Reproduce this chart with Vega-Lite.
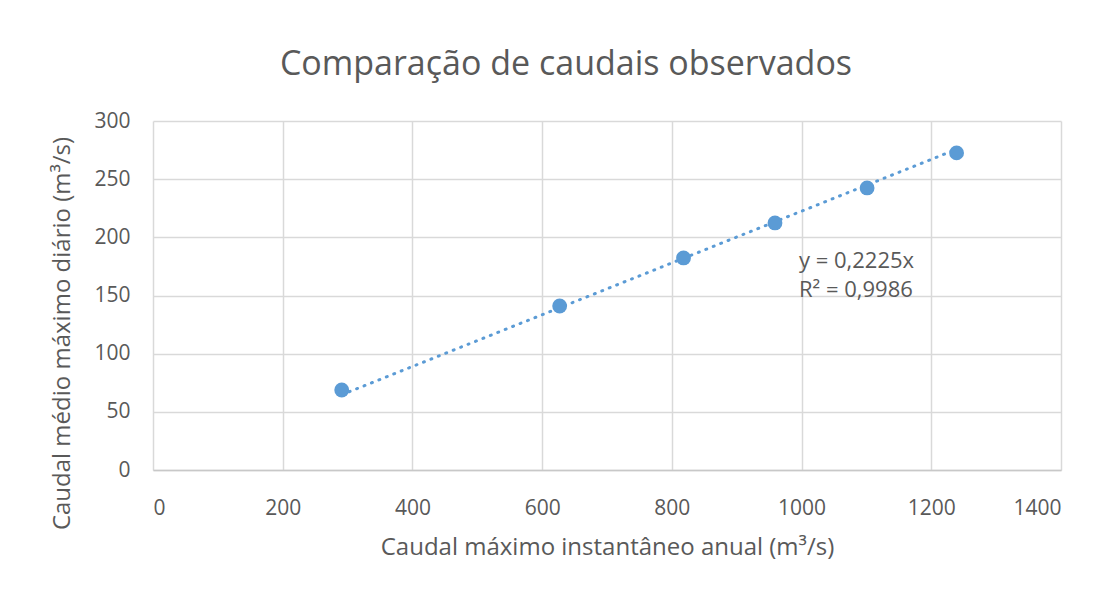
{
  "$schema": "https://vega.github.io/schema/vega-lite/v6.json",
  "width": 908,
  "height": 349,
  "autosize": {"type": "none"},
  "padding": {"left": 153, "top": 121, "right": 47, "bottom": 123},
  "background": "white",
  "title": {
    "text": "Comparação de caudais observados",
    "font": "Open Sans",
    "fontSize": 34,
    "fontWeight": "normal",
    "color": "#595959",
    "anchor": "middle",
    "frame": "group",
    "dx": -41,
    "offset": 28
  },
  "datasets": {
    "points": [
      {"q_inst": 291, "q_med": 68.8},
      {"q_inst": 627, "q_med": 141},
      {"q_inst": 818, "q_med": 182.3},
      {"q_inst": 959, "q_med": 212.4},
      {"q_inst": 1101, "q_med": 242.5},
      {"q_inst": 1239, "q_med": 272.6}
    ],
    "trend": [
      {"q_inst": 291, "q_med": 64.7},
      {"q_inst": 1239, "q_med": 275.7}
    ],
    "labels": [
      {"q_inst": 996, "q_med": 179.7, "text": "y = 0,2225x"},
      {"q_inst": 996, "q_med": 154.8, "text": "R² = 0,9986"}
    ]
  },
  "config": {
    "view": {"stroke": null},
    "axis": {
      "grid": true,
      "gridColor": "#d9d9d9",
      "gridWidth": 1.5,
      "domainColor": "#c8c8c8",
      "domainWidth": 1.5,
      "ticks": false,
      "labelFont": "Open Sans",
      "labelFontSize": 21,
      "labelColor": "#595959",
      "titleFont": "Open Sans",
      "titleFontSize": 24,
      "titleFontWeight": "normal",
      "titleColor": "#595959",
      "format": "d"
    }
  },
  "layer": [
    {
      "data": {"name": "trend"},
      "mark": {"type": "line", "color": "#5B9BD5", "strokeWidth": 3, "strokeDash": [1, 7], "strokeCap": "round"},
      "encoding": {
        "x": {"field": "q_inst", "type": "quantitative", "scale": {"domain": [0, 1400], "nice": false},
          "axis": {"values": [0, 200, 400, 600, 800, 1000, 1200, 1400], "format": "d", "title": "Caudal máximo instantâneo anual (m³/s)", "labelPadding": 27, "titleX": 454, "titleY": 77, "titleBaseline": "middle", "domain": true}},
        "y": {"field": "q_med", "type": "quantitative", "scale": {"domain": [0, 300], "nice": false},
          "axis": {"values": [0, 50, 100, 150, 200, 250, 300], "format": "d", "title": "Caudal médio máximo diário (m³/s)", "labelPadding": 23, "domain": false, "titleAngle": -90, "titleX": -91, "titleY": 212, "titleBaseline": "middle", "titleAlign": "center"}}
      }
    },
    {
      "data": {"name": "points"},
      "mark": {"type": "circle", "color": "#5B9BD5", "opacity": 1, "size": 220},
      "encoding": {
        "x": {"field": "q_inst", "type": "quantitative"},
        "y": {"field": "q_med", "type": "quantitative"}
      }
    },
    {
      "data": {"name": "labels"},
      "mark": {"type": "text", "align": "left", "baseline": "middle", "font": "Open Sans", "fontSize": 22, "color": "#595959"},
      "encoding": {
        "x": {"field": "q_inst", "type": "quantitative"},
        "y": {"field": "q_med", "type": "quantitative"},
        "text": {"field": "text"}
      }
    }
  ]
}
